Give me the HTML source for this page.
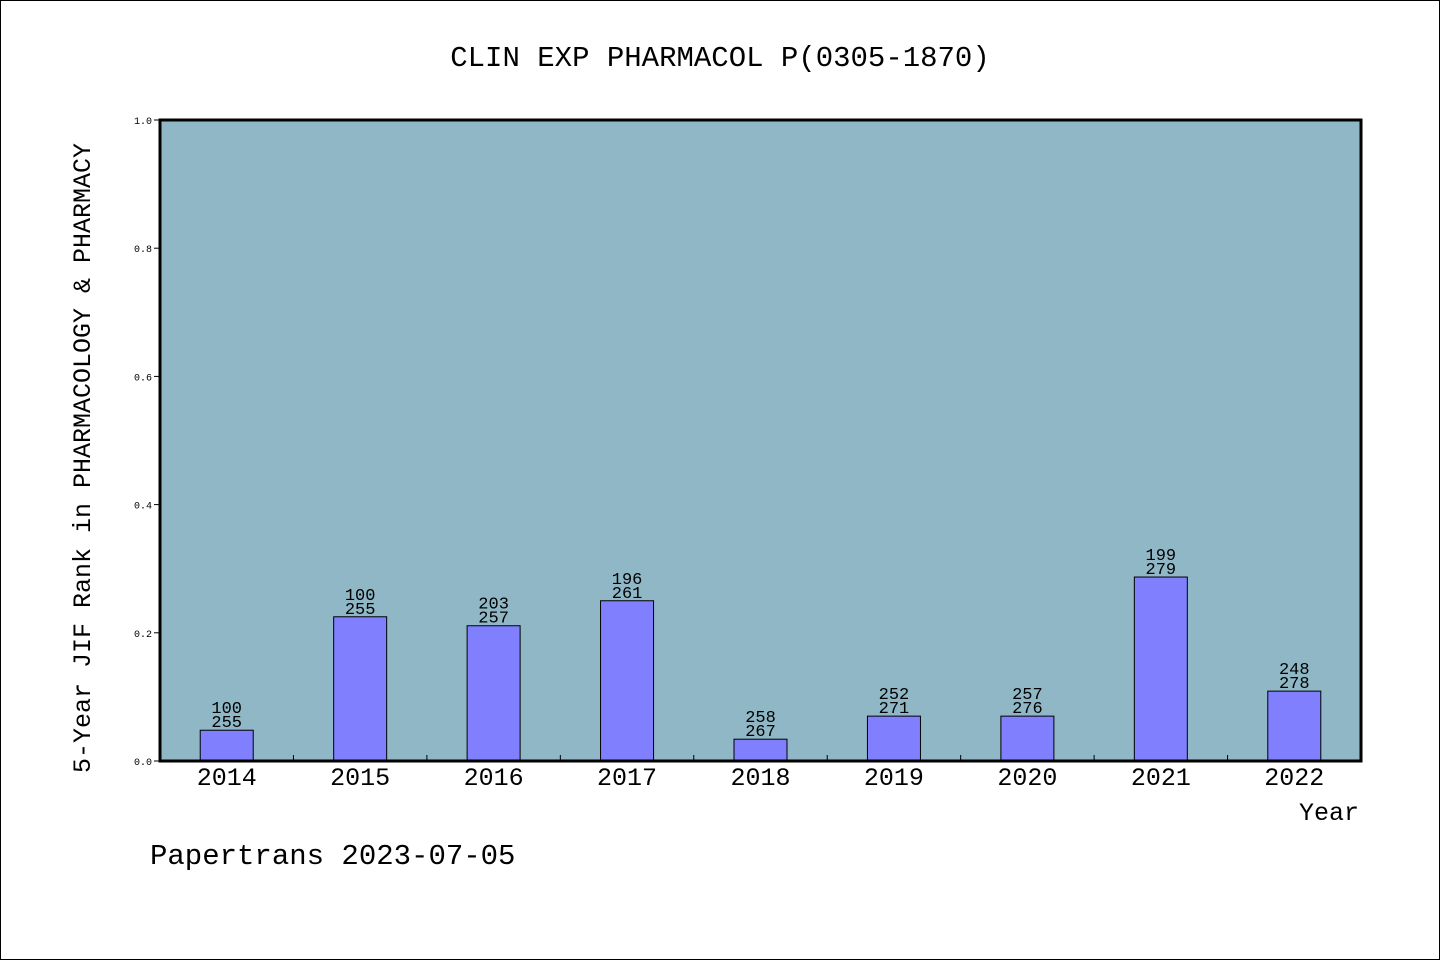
<!DOCTYPE html>
<html><head><meta charset="utf-8"><style>
body{margin:0;background:#fff}
svg text{font-family:"Liberation Mono","WenQuanYi Zen Hei",monospace}
</style></head><body>
<svg width="1440" height="960" id="c">
<rect x="0.5" y="0.5" width="1439" height="959" fill="#fff" stroke="#000"/>
<text x="720" y="66" font-size="29" text-anchor="middle">CLIN EXP PHARMACOL P(0305-1870)</text>
<rect x="160" y="120" width="1201" height="641" fill="#8fb7c6"/>
<g id="bars"></g>
<rect x="160" y="120" width="1201" height="641" fill="none" stroke="#000" stroke-width="3"/>
<text transform="translate(90,458) rotate(-90)" font-size="25" text-anchor="middle">5-Year JIF Rank in PHARMACOLOGY &amp; PHARMACY</text>
<text x="1359" y="820" font-size="25" text-anchor="end">Year</text>
<text x="150" y="864" font-size="29">Papertrans 2023-07-05</text>
</svg>
<script>
const years=["2014","2015","2016","2017","2018","2019","2020","2021","2022"];
const values=[0.048,0.225,0.211,0.25,0.034,0.070,0.070,0.287,0.109];
const ranks=["100","100","203","196","258","252","257","199","248"];
const totals=["255","255","257","261","267","271","276","279","278"];
const yTicks=[0,0.2,0.4,0.6,0.8,1.0];
const yTickLabels=["0.0","0.2","0.4","0.6","0.8","1.0"];
const X0=160,W=1201,Y0=761,H=641;
const step=W/years.length;
const xc=i=>X0+step*(i+0.5);
const y=v=>Y0-v*H;
const g=document.getElementById('bars');
const NS="http://www.w3.org/2000/svg";
function mk(t,a){const e=document.createElementNS(NS,t);for(const k in a)e.setAttribute(k,a[k]);return e;}
yTicks.forEach((v,i)=>{
 const l=mk('line',{x1:X0-6,x2:X0,y1:y(v),y2:y(v),stroke:'#000'});
 
 
 g.appendChild(l);
 const t=mk('text',{x:X0-8,y:y(v)+4,'font-size':10,'text-anchor':'end'});
 
 
 t.textContent=yTickLabels[i];g.appendChild(t);
});
for(let i=1;i<years.length;i++){
 const l=mk('line',{x1:X0+step*i,x2:X0+step*i,y1:Y0,y2:Y0-6,stroke:'#000'});
 
 
 g.appendChild(l);
}
years.forEach((yr,i)=>{
 const bw=53,top=y(values[i]);
 const r=mk('rect',{x:xc(i)-bw/2,y:top,width:bw,height:Y0-top,fill:'#8080ff',stroke:'#000','stroke-width':1});
 
 
 g.appendChild(r);
 const t1=mk('text',{x:xc(i),y:top-17,'font-size':17,'text-anchor':'middle'});
 
 
 t1.textContent=ranks[i];g.appendChild(t1);
 const t2=mk('text',{x:xc(i),y:top-3,'font-size':17,'text-anchor':'middle'});
 
 
 t2.textContent=totals[i];g.appendChild(t2);
 const xl=mk('text',{x:xc(i),y:785,'font-size':25,'text-anchor':'middle'});
 
 
 xl.textContent=yr;g.appendChild(xl);
});
</script>
</body></html>
